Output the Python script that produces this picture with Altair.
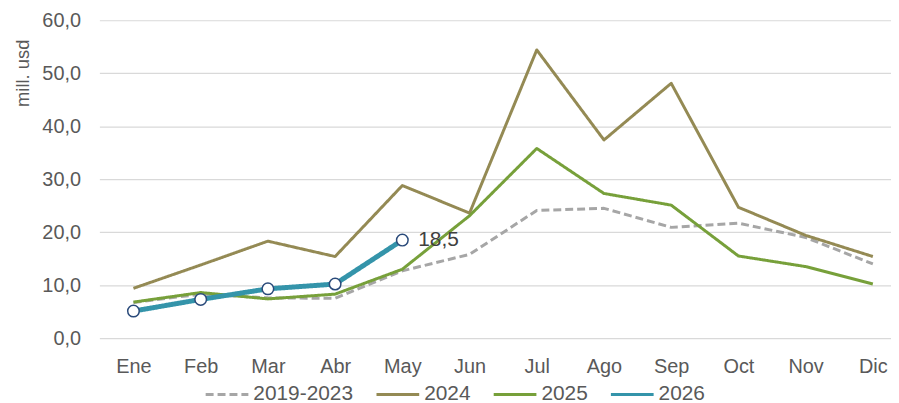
import altair as alt
import pandas as pd

months = ["Ene", "Feb", "Mar", "Abr", "May", "Jun", "Jul", "Ago", "Sep", "Oct", "Nov", "Dic"]
s_base = [6.7, 8.3, 7.6, 7.5, 12.7, 15.8, 24.1, 24.5, 20.9, 21.7, 19.0, 14.0]
s_2024 = [9.4, 13.8, 18.3, 15.4, 28.8, 23.6, 54.4, 37.4, 48.1, 24.7, 19.4, 15.4]
s_2025 = [6.8, 8.6, 7.4, 8.3, 13.0, 23.1, 35.8, 27.3, 25.1, 15.5, 13.5, 10.2]
s_2026 = [5.1, 7.3, 9.3, 10.2, 18.5]

series_names = ["2019-2023", "2024", "2025", "2026"]
series_vals = [s_base, s_2024, s_2025, s_2026]
colors = ["#A6A6A6", "#948A54", "#77A03A", "#3494AA"]
dashes = [[8, 4], [1, 0], [1, 0], [1, 0]]
widths = [3, 3, 3, 5]

rows = []
for name, vals in zip(series_names, series_vals):
    for i, v in enumerate(vals):
        rows.append({"mes": months[i], "serie": name, "valor": v, "idx": i})
df = pd.DataFrame(rows)

FONT = "Liberation Sans"
month_arr = "[" + ",".join("'%s'" % m for m in months) + "]"

x_enc = alt.X("idx:Q",
              scale=alt.Scale(domain=[-0.507, 11.27], nice=False, zero=False),
              axis=alt.Axis(title=None, domain=False, ticks=False, grid=False,
                            values=list(range(12)),
                            labelExpr=month_arr + "[datum.value]",
                            labelFontSize=20, labelColor="#595959", labelFont=FONT,
                            labelPadding=19, labelAngle=0, labelFlush=False,
                            labelOverlap=False))
y_enc = alt.Y("valor:Q",
              scale=alt.Scale(domain=[0, 60], nice=False),
              axis=alt.Axis(values=[0, 10, 20, 30, 40, 50, 60], format=".1f",
                            labelExpr="replace(datum.label, '.', ',')",
                            domain=False, ticks=False, grid=True, gridColor="#D9D9D9",
                            gridWidth=1.2,
                            labelFontSize=20, labelColor="#595959", labelFont=FONT,
                            labelPadding=19,
                            title="mill. usd", titleFont=FONT, titleFontSize=18.5,
                            titleFontWeight="normal", titleColor="#595959",
                            titleAngle=-90, titleX=-77, titleY=19,
                            titleAlign="right", titleBaseline="middle"))

legend_kw = dict(title=None, orient="none", direction="horizontal",
                 legendX=105, legendY=353,
                 symbolType="stroke", symbolSize=1850, symbolStrokeWidth=3,
                 labelFontSize=21, labelColor="#595959", labelFont=FONT,
                 labelOffset=3, columnPadding=16)

color_enc = alt.Color("serie:N",
                      scale=alt.Scale(domain=series_names, range=colors),
                      legend=alt.Legend(**legend_kw))
dash_enc = alt.StrokeDash("serie:N",
                          scale=alt.Scale(domain=series_names, range=dashes),
                          legend=alt.Legend(**legend_kw))

base = alt.Chart(df)

layers = []
for name, w in zip(series_names, widths):
    layers.append(
        base.transform_filter(alt.datum.serie == name)
        .mark_line(strokeCap="butt", strokeJoin="round", strokeWidth=w)
        .encode(x=x_enc, y=y_enc, color=color_enc, strokeDash=dash_enc)
    )

points = base.transform_filter(alt.datum.serie == "2026").mark_point(
    filled=True, fill="white", stroke="#2A4A7A", strokeWidth=1.5, size=135, opacity=1
).encode(x=x_enc, y=y_enc)

label = base.transform_filter((alt.datum.serie == "2026") & (alt.datum.mes == "May")).transform_calculate(
    lab="replace(format(datum.valor, '.1f'), '.', ',')"
).mark_text(
    align="left", baseline="middle", dx=16, fontSize=21, font=FONT, color="#404040"
).encode(x=x_enc, y=y_enc, text="lab:N")

chart = alt.layer(*layers, points, label).properties(
    width=797, height=320,
    autosize=alt.AutoSizeParams(type="none"),
    padding={"left": 92, "top": 11, "right": 0, "bottom": 64},
).configure_view(stroke=None)

chart.save("out.html", embed_options={"renderer": "svg", "actions": False})
